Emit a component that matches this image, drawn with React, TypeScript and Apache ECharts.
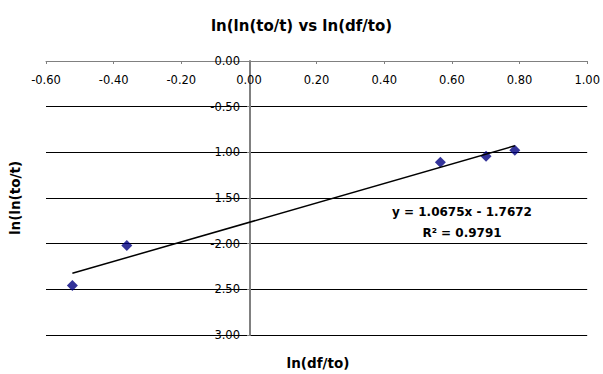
import React, { useEffect, useRef } from "react";
import * as echarts from "echarts";

const xValues = [-0.522, -0.361, 0.566, 0.701, 0.786];
const yValues = [-2.457, -2.02, -1.109, -1.043, -0.978];
const slope = 1.0675;
const intercept = -1.7672;
const rSquared = 0.9791;
const titleText = "ln(ln(to/t) vs ln(df/to)";
const xTitle = "ln(df/to)";
const yTitle = "ln(ln(to/t)";

const FONT = "'DejaVu Sans', 'Liberation Sans', Arial, sans-serif";

export default function App() {
  const ref = useRef<HTMLDivElement>(null);
  useEffect(() => {
    if (!ref.current) return;
    const chart = echarts.init(ref.current, undefined, { renderer: "svg" });
    const xMin = Math.min(...xValues);
    const xMax = Math.max(...xValues);
    const trend = [
      [xMin, slope * xMin + intercept],
      [xMax, slope * xMax + intercept],
    ];
    const eq = `y = ${slope.toFixed(4)}x - ${Math.abs(intercept).toFixed(4)}`;
    const gridLeft = 46;
    const gridRight = 13;
    const plotW = 603 - gridLeft - gridRight;
    const zeroOffset = (plotW * (0 - -0.6)) / (1.0 - -0.6);
    chart.setOption({
      animation: false,
      backgroundColor: "#fff",
      title: {
        text: titleText,
        left: "center",
        top: 13,
        textStyle: { fontFamily: FONT, fontSize: 15, fontWeight: "bold", color: "#000" },
      },
      grid: { left: gridLeft, right: gridRight, top: 61, bottom: 39, containLabel: false },
      xAxis: {
        type: "value",
        min: -0.6,
        max: 1.0,
        interval: 0.2,
        position: "top",
        axisLine: { show: true, onZero: false, lineStyle: { color: "#808080", width: 1 } },
        axisTick: { show: true, inside: true, length: 3, lineStyle: { color: "#808080" } },
        axisLabel: {
          inside: true,
          margin: 13,
          fontFamily: FONT,
          fontSize: 11.5,
          color: "#000",
          formatter: (v: number) => v.toFixed(2),
        },
        splitLine: { show: false },
      },
      yAxis: {
        type: "value",
        min: -3,
        max: 0,
        interval: 0.5,
        position: "left",
        offset: -zeroOffset,
        axisLine: { show: true, onZero: false, lineStyle: { color: "#808080", width: 2 } },
        axisTick: { show: true, inside: false, length: 3, lineStyle: { color: "#808080" } },
        axisLabel: {
          margin: 10,
          fontFamily: FONT,
          fontSize: 11.5,
          color: "#000",
          formatter: (v: number) => v.toFixed(2),
        },
        splitLine: { show: true, lineStyle: { color: "#000", width: 1 } },
      },
      series: [
        {
          type: "scatter",
          data: xValues.map((x, i) => [x, yValues[i]]),
          symbol: "diamond",
          symbolSize: 11,
          itemStyle: { color: "#000080" },
          z: 2,
        },
        {
          type: "line",
          data: trend,
          symbol: "none",
          lineStyle: { color: "#000", width: 1.5 },
          z: 3,
        },
      ],
      graphic: [
        {
          type: "text",
          style: {
            text: eq,
            x: 462,
            y: 212,
            textAlign: "center",
            textVerticalAlign: "middle",
            font: `bold 12px ${FONT}`,
            fill: "#000",
          },
        },
        {
          type: "text",
          style: {
            text: `R² = ${rSquared.toFixed(4)}`,
            x: 462,
            y: 233,
            textAlign: "center",
            textVerticalAlign: "middle",
            font: `bold 12px ${FONT}`,
            fill: "#000",
          },
        },
        {
          type: "text",
          style: {
            text: xTitle,
            x: 318,
            y: 363,
            textAlign: "center",
            textVerticalAlign: "middle",
            font: `bold 13.5px ${FONT}`,
            fill: "#000",
          },
        },
        {
          type: "text",
          x: 15,
          y: 198,
          rotation: Math.PI / 2,
          style: {
            text: yTitle,
            x: 0,
            y: 0,
            textAlign: "center",
            textVerticalAlign: "middle",
            font: `bold 13.5px ${FONT}`,
            fill: "#000",
          },
        },
      ],
    });
    return () => chart.dispose();
  }, []);
  return (
    <div
      ref={ref}
      style={{ position: "fixed", left: 0, top: 0, width: 603, height: 374 }}
    />
  );
}
